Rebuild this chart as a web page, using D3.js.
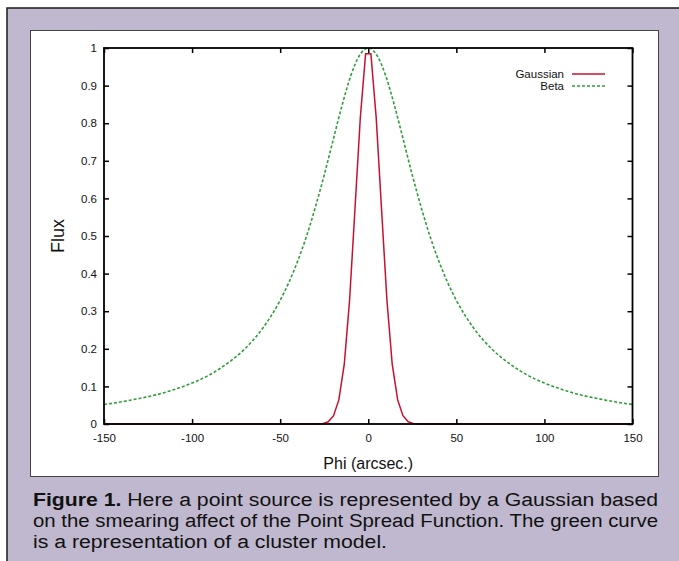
<!DOCTYPE html>
<html>
<head>
<meta charset="utf-8">
<script src="https://cdn.jsdelivr.net/npm/d3@7"></script>
<style>
  body { margin: 0; background: #fff; }
  svg { display: block; font-family: "Liberation Sans", Arial, Helvetica, sans-serif; }
</style>
</head>
<body>
<div id="chart"></div>
<script>
// Data
const X_TICKS = [-150, -100, -50, 0, 50, 100, 150];
const Y_TICKS = [0, 0.1, 0.2, 0.3, 0.4, 0.5, 0.6, 0.7, 0.8, 0.9, 1];

const GAUSS_X = [-150, -28.8, -25.8, -22.7, -19.7, -16.7, -13.6, -10.6, -7.6, -4.5, -1.5,
                 1.5, 4.5, 7.6, 10.6, 13.6, 16.7, 19.7, 22.7, 25.8, 28.8, 150];
const GAUSS_Y = [0, 0, 0.001, 0.006, 0.022, 0.064, 0.159, 0.329, 0.567, 0.815, 0.985,
                 0.985, 0.815, 0.567, 0.329, 0.159, 0.064, 0.022, 0.006, 0.001, 0, 0];

const BETA_X = [-150, -140, -130, -120, -110, -100, -90, -80, -70, -60, -50, -45, -40, -35,
                -30, -25, -20, -15, -10, -5, 0, 5, 10, 15, 20, 25, 30, 35, 40, 45, 50,
                60, 70, 80, 90, 100, 110, 120, 130, 140, 150];
const BETA_Y = [0.052, 0.059, 0.068, 0.078, 0.092, 0.109, 0.131, 0.161, 0.200, 0.254, 0.329,
                0.377, 0.434, 0.500, 0.577, 0.662, 0.754, 0.845, 0.925, 0.980, 1.000,
                0.980, 0.925, 0.845, 0.754, 0.662, 0.577, 0.500, 0.434, 0.377, 0.329,
                0.254, 0.200, 0.161, 0.131, 0.109, 0.092, 0.078, 0.068, 0.059, 0.052];

const SERIES = ["Gaussian", "Beta"];
const CAPTION_BOLD = "Figure 1.";
const CAPTION = [
  " Here a point source is represented by a Gaussian based",
  "on the smearing affect of the Point Spread Function. The green curve",
  "is a representation of a cluster model."
];

const W = 679, H = 561;
const PLOT = { left: 104, right: 632.5, top: 48, bottom: 424 };
const RED = "#c8102e", GREEN = "#2f9e3a";

const svg = d3.select("#chart").append("svg")
  .attr("width", W).attr("height", H);

// Page background and panel
svg.append("rect").attr("x", 7).attr("y", 8).attr("width", W).attr("height", H)
  .attr("fill", "#bfb8cf").attr("stroke", "#1a1a1a").attr("stroke-width", 1.5);
svg.append("rect").attr("x", 30.5).attr("y", 30.5).attr("width", 628).attr("height", 446)
  .attr("fill", "#fff").attr("stroke", "#444").attr("stroke-width", 1);

// Scales
const x = d3.scaleLinear().domain([-150, 150]).range([PLOT.left, PLOT.right]);
const y = d3.scaleLinear().domain([0, 1]).range([PLOT.bottom, PLOT.top]);
const fmt = d => String(+d.toFixed(1));

// Axes (ticks pointing inward on all four sides)
const axisB = svg.append("g").attr("transform", `translate(0,${PLOT.bottom})`)
  .call(d3.axisBottom(x).tickValues(X_TICKS).tickFormat(fmt).tickSize(-5).tickPadding(10));
const axisL = svg.append("g").attr("transform", `translate(${PLOT.left},0)`)
  .call(d3.axisLeft(y).tickValues(Y_TICKS).tickFormat(fmt).tickSize(-5).tickPadding(7));
const axisT = svg.append("g").attr("transform", `translate(0,${PLOT.top})`)
  .call(d3.axisTop(x).tickValues(X_TICKS).tickFormat("").tickSize(-5));
const axisR = svg.append("g").attr("transform", `translate(${PLOT.right},0)`)
  .call(d3.axisRight(y).tickValues(Y_TICKS).tickFormat("").tickSize(-5));

[axisB, axisL, axisT, axisR].forEach(a => {
  a.select(".domain").remove();
  a.selectAll(".tick line").attr("stroke", "#000").attr("stroke-width", 1.5);
  a.selectAll(".tick text").attr("fill", "#111").attr("font-size", "11.5px")
    .attr("font-family", "Liberation Sans, Arial, sans-serif");
});

// Curves
const line = d3.line().x(d => x(d[0])).y(d => y(d[1]));

svg.append("path")
  .datum(BETA_X.map((v, i) => [v, BETA_Y[i]]))
  .attr("d", line.curve(d3.curveMonotoneX))
  .attr("fill", "none").attr("stroke", GREEN).attr("stroke-width", 1.6)
  .attr("stroke-dasharray", "3,2");

svg.append("path")
  .datum(GAUSS_X.map((v, i) => [v, GAUSS_Y[i]]))
  .attr("d", line.curve(d3.curveLinear))
  .attr("fill", "none").attr("stroke", RED).attr("stroke-width", 1.5);

// Frame
svg.append("rect")
  .attr("x", PLOT.left).attr("y", PLOT.top)
  .attr("width", PLOT.right - PLOT.left).attr("height", PLOT.bottom - PLOT.top)
  .attr("fill", "none").attr("stroke", "#000").attr("stroke-width", 1.8);

// Legend
const legend = svg.append("g");
SERIES.forEach((name, i) => {
  const ly = 74 + i * 12;
  legend.append("text").attr("x", 564).attr("y", ly).attr("dy", "0.35em")
    .attr("text-anchor", "end").attr("font-size", "11.5px").attr("fill", "#111")
    .text(name);
  legend.append("line").attr("x1", 572).attr("x2", 605).attr("y1", ly).attr("y2", ly)
    .attr("stroke", i === 0 ? RED : GREEN).attr("stroke-width", 1.5)
    .attr("stroke-dasharray", i === 0 ? null : "3,2");
});

// Axis titles
svg.append("text").attr("x", (PLOT.left + PLOT.right) / 2).attr("y", 463)
  .attr("dy", "0.35em").attr("text-anchor", "middle").attr("font-size", "16px")
  .attr("fill", "#111").text("Phi (arcsec.)");
svg.append("text").attr("transform", `translate(58,${(PLOT.top + PLOT.bottom) / 2}) rotate(-90)`)
  .attr("dy", "0.35em").attr("text-anchor", "middle").attr("font-size", "18px")
  .attr("fill", "#111").text("Flux");

// Caption (justified to the panel width)
const cap = svg.append("g").attr("fill", "#111").attr("font-size", "18px");
const l1 = cap.append("text").attr("x", 33).attr("y", 506)
  .attr("textLength", 625).attr("lengthAdjust", "spacingAndGlyphs");
l1.append("tspan").attr("font-weight", "bold").text(CAPTION_BOLD);
l1.append("tspan").text(CAPTION[0]);
cap.append("text").attr("x", 33).attr("y", 527)
  .attr("textLength", 625).attr("lengthAdjust", "spacingAndGlyphs").text(CAPTION[1]);
cap.append("text").attr("x", 33).attr("y", 548)
  .attr("textLength", 354).attr("lengthAdjust", "spacingAndGlyphs").text(CAPTION[2]);
</script>
</body>
</html>
